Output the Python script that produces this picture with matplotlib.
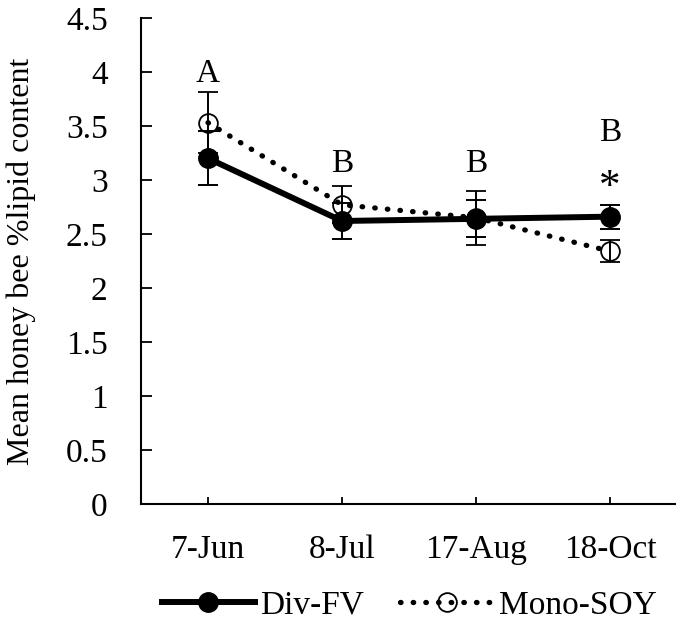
import matplotlib
matplotlib.use("Agg")
import matplotlib.pyplot as plt
from matplotlib.lines import Line2D

dates = ["7-Jun", "8-Jul", "17-Aug", "18-Oct"]
div_fv = [3.20, 2.62, 2.64, 2.66]
div_fv_err = [0.25, 0.17, 0.17, 0.11]
mono_soy = [3.53, 2.77, 2.65, 2.34]
mono_soy_err = [0.28, 0.17, 0.25, 0.10]

# letters above each date and the significance star
letters = ["A", "B", "B", "B"]
letter_y = [3.98, 3.15, 3.15, 3.44]
star_y = 2.93

plt.rcParams["font.family"] = ["Liberation Serif", "DejaVu Serif"]
plt.rcParams["font.size"] = 24

fig = plt.figure(figsize=(6.76, 6.24), dpi=100)
ax = fig.add_axes([0.2086, 0.1923, 0.793, 0.779])

x = list(range(len(dates)))
dots = (0, (0.1, 2.3))

ax.errorbar(x, mono_soy, yerr=mono_soy_err, color="black", linestyle=dots,
            linewidth=3.8, dash_capstyle="round", marker="o", markersize=13.5,
            markerfacecolor="none", markeredgecolor="black", markeredgewidth=1.3,
            ecolor="black", elinewidth=1.4, capsize=7, capthick=1.4, zorder=2)
ax.errorbar(x, div_fv, yerr=div_fv_err, color="black", linestyle="-", linewidth=4.3,
            marker="o", markersize=14, markerfacecolor="black", markeredgecolor="black",
            ecolor="black", elinewidth=1.4, capsize=7, capthick=1.4, zorder=3)

for i, lab in enumerate(letters):
    ax.text(x[i], letter_y[i], lab, ha="center", va="center", fontsize=24)
ax.text(x[3], star_y, "*", ha="center", va="center", fontsize=31)

ax.set_xlim(-0.5, 3.5)
ax.set_ylim(0, 4.5)
ax.set_yticks([0, 0.5, 1, 1.5, 2, 2.5, 3, 3.5, 4, 4.5])
ax.set_yticklabels(["0", "0.5", "1", "1.5", "2", "2.5", "3", "3.5", "4", "4.5"])
ax.set_xticks(x)
ax.set_xticklabels(dates)
ax.tick_params(axis="y", direction="in", length=8, width=1.3, pad=24)
ax.tick_params(axis="x", direction="in", length=5, width=1.3, pad=22)
for side in ["top", "right"]:
    ax.spines[side].set_visible(False)
for side in ["left", "bottom"]:
    ax.spines[side].set_linewidth(1.5)
ax.set_ylabel("Mean honey bee %lipid content", fontsize=23)
ax.yaxis.set_label_coords(-0.195, 0.5)

handles = [
    Line2D([], [], color="black", linewidth=4.3, marker="o", markersize=14),
    Line2D([], [], color="black", linestyle=dots, linewidth=3.8,
           dash_capstyle="round", marker="o", markersize=13.5,
           markerfacecolor="none", markeredgewidth=1.3),
]
fig.legend(handles, ["Div-FV", "Mono-SOY"], loc="center", bbox_to_anchor=(0.605, 0.03),
           ncol=2, frameon=False, handlelength=2.8, handletextpad=0.15, columnspacing=1.1,
           fontsize=24)

fig.savefig("out.png", dpi=100)
